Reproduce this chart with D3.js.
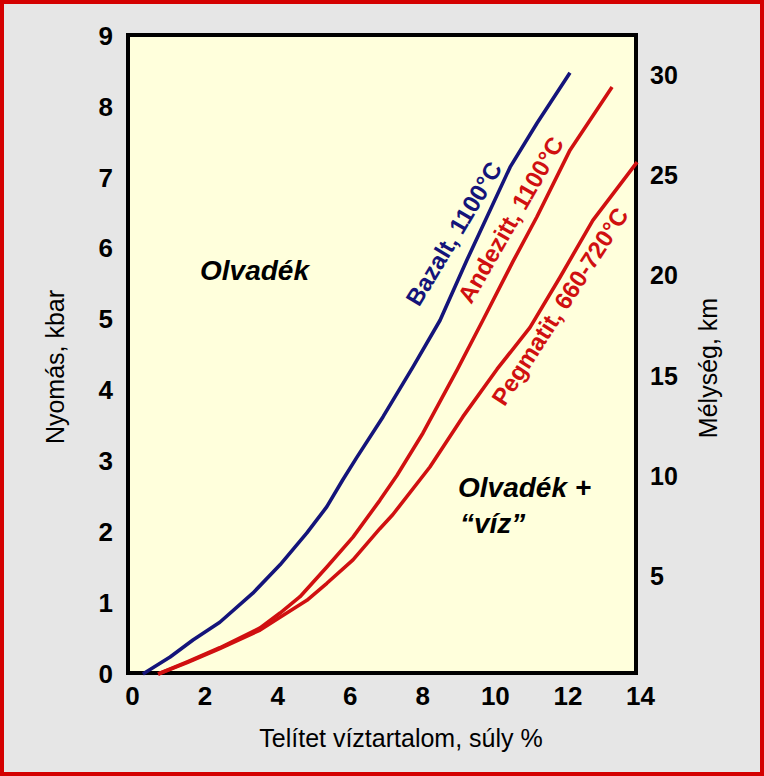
<!DOCTYPE html>
<html><head><meta charset="utf-8">
<script src="https://cdn.jsdelivr.net/npm/d3@7"></script>
<style>
html,body{margin:0;padding:0;background:#e6e6e6;}
svg{display:block;font-family:"Liberation Sans",Arial,sans-serif;}
</style></head>
<body>
<svg id="chart" width="764" height="776"></svg>
<script>
// ---- data ----
const xTicks = [0, 2, 4, 6, 8, 10, 12, 14];
const pressureTicks = [0, 1, 2, 3, 4, 5, 6, 7, 8, 9];
const depthTicks = [5, 10, 15, 20, 25, 30];

const bazaltX = [0.30, 1.05, 1.68, 2.42, 3.33, 4.08, 4.82, 5.37, 5.81, 6.20, 6.92, 7.74, 8.49, 9.23, 10.42, 11.16, 12.07];
const bazaltP = [0.00, 0.24, 0.48, 0.73, 1.14, 1.54, 1.99, 2.36, 2.74, 3.06, 3.63, 4.33, 4.99, 5.84, 7.15, 7.77, 8.48];

const andezitX = [0.72, 1.52, 2.42, 3.53, 4.08, 4.63, 5.37, 6.09, 6.83, 7.30, 8.02, 8.96, 9.67, 10.50, 11.16, 12.07, 13.23];
const andezitP = [0.00, 0.17, 0.37, 0.65, 0.86, 1.09, 1.51, 1.93, 2.45, 2.80, 3.40, 4.29, 4.99, 5.82, 6.45, 7.39, 8.28];

const pegmatitX = [0.72, 1.52, 2.42, 3.53, 4.08, 4.82, 5.37, 6.09, 6.83, 7.19, 8.21, 9.12, 10.06, 10.97, 11.80, 12.70, 13.92];
const pegmatitP = [0.00, 0.16, 0.36, 0.62, 0.80, 1.04, 1.28, 1.61, 2.05, 2.25, 2.92, 3.63, 4.30, 4.89, 5.60, 6.40, 7.22];

const seriesNames = ["Bazalt, 1100°C", "Andezitt, 1100°C", "Pegmatit, 660-720°C"];
const xTitle = "Telítet víztartalom, súly %";
const yTitle = "Nyomás, kbar";
const y2Title = "Mélység, km";

// ---- layout ----
const W = 764, H = 776;
const box = {left: 128, right: 636, top: 35, bottom: 673};
const svg = d3.select("#chart");

const x = d3.scaleLinear().domain([0, 14]).range([132, 640]);
const y = d3.scaleLinear().domain([0, 9]).range([674, 36]);
const yDepth = d3.scaleLinear().domain([0, 30]).range([677, 75]);

// background + red frame
svg.append("rect").attr("x", 0).attr("y", 0).attr("width", W).attr("height", H).attr("fill", "#e6e6e6");
svg.append("rect").attr("x", 2).attr("y", 2).attr("width", W - 4).attr("height", H - 4)
  .attr("fill", "none").attr("stroke", "#d40000").attr("stroke-width", 4);

// plot area
svg.append("rect").attr("x", box.left).attr("y", box.top)
  .attr("width", box.right - box.left).attr("height", box.bottom - box.top)
  .attr("fill", "#ffffdc").attr("stroke", "#000").attr("stroke-width", 4);

// axes (labels only)
const tickStyle = sel => sel.select(".domain").remove();
const fontFam = "'Liberation Sans',Arial,sans-serif";

svg.append("g").attr("transform", `translate(0,${box.bottom})`)
  .call(d3.axisBottom(x).tickValues(xTicks).tickSize(0).tickPadding(14).tickFormat(d3.format("d")))
  .call(tickStyle)
  .call(g => g.selectAll("text").attr("font-size", 26).attr("font-weight", "bold").attr("fill", "#000")
    .attr("font-family", fontFam));

svg.append("g").attr("transform", `translate(${box.left},0)`)
  .call(d3.axisLeft(y).tickValues(pressureTicks).tickSize(0).tickPadding(15).tickFormat(d3.format("d")))
  .call(tickStyle)
  .call(g => g.selectAll("text").attr("font-size", 26).attr("font-weight", "bold").attr("fill", "#000")
    .attr("font-family", fontFam));

svg.append("g").attr("transform", `translate(${box.right},0)`)
  .call(d3.axisRight(yDepth).tickValues(depthTicks).tickSize(0).tickPadding(14).tickFormat(d3.format("d")))
  .call(tickStyle)
  .call(g => g.selectAll("text").attr("font-size", 25).attr("font-weight", "bold").attr("fill", "#000")
    .attr("font-family", fontFam));

// axis titles
svg.append("text").attr("x", 401).attr("y", 747).attr("text-anchor", "middle")
  .attr("font-size", 25).attr("fill", "#000").text(xTitle);
svg.append("text").attr("transform", "translate(64,367) rotate(-90)").attr("text-anchor", "middle")
  .attr("font-size", 25).attr("fill", "#000").text(yTitle);
svg.append("text").attr("transform", "translate(717,368) rotate(-90)").attr("text-anchor", "middle")
  .attr("font-size", 25).attr("fill", "#000").text(y2Title);

// curves
const line = d3.line().x(d => x(d[0])).y(d => y(d[1])).curve(d3.curveLinear);
const series = [
  {xs: bazaltX, ps: bazaltP, color: "#14147a"},
  {xs: andezitX, ps: andezitP, color: "#d01010"},
  {xs: pegmatitX, ps: pegmatitP, color: "#d01010"}
];
series.forEach(s => {
  svg.append("path").datum(d3.zip(s.xs, s.ps))
    .attr("d", line).attr("fill", "none").attr("stroke", s.color)
    .attr("stroke-width", 3.6).attr("stroke-linejoin", "round").attr("stroke-linecap", "butt");
});

// curve labels
const labelPos = [
  {cx: 461, cy: 238, rot: -59, color: "#14147a"},
  {cx: 518, cy: 224, rot: -60, color: "#d01010"},
  {cx: 567, cy: 311, rot: -57, color: "#d01010"}
];
seriesNames.forEach((t, i) => {
  const p = labelPos[i];
  svg.append("text").attr("transform", `translate(${p.cx},${p.cy}) rotate(${p.rot})`)
    .attr("text-anchor", "middle").attr("font-size", 24).attr("font-weight", "bold")
    .attr("fill", p.color).text(t);
});

// region labels
const regionStyle = sel => sel.attr("font-size", 28).attr("font-weight", "bold")
  .attr("font-style", "italic").attr("fill", "#000");
svg.append("text").attr("x", 200).attr("y", 280).call(regionStyle).text("Olvadék");
svg.append("text").attr("x", 458).attr("y", 497).call(regionStyle).text("Olvadék +");
svg.append("text").attr("x", 460).attr("y", 533).call(regionStyle).text("“víz”");
</script>
</body></html>
